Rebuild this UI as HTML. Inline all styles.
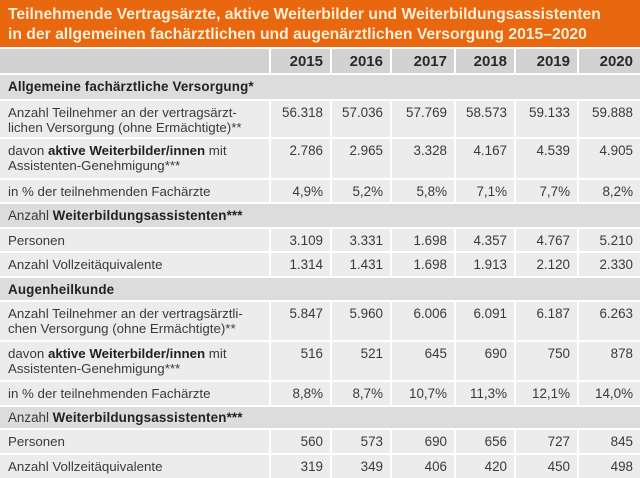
<!DOCTYPE html>
<html><head><meta charset="utf-8">
<style>
*{margin:0;padding:0;box-sizing:border-box}
html,body{width:640px;height:478px;background:#fff;overflow:hidden}
body{position:relative;font-family:"Liberation Sans",Arial,sans-serif;color:#3a3a3a}
.c{position:absolute;background:#ececec;font-size:13px;line-height:15px;padding-top:4px;white-space:nowrap}
.l{padding-left:8px;font-size:13.3px}
.n{text-align:right;padding-right:7px;font-size:13.4px}
.yr{background:#d2d2d2;font-weight:bold;font-size:15px;line-height:17px;color:#2a2a2a}
.sec{background:#dcdcdc;font-size:13.4px;line-height:16px;padding-left:8px}
b{color:#222;font-weight:bold}
.sec b{letter-spacing:0.15px}
#title{position:absolute;left:0;top:0;width:640px;height:47px;background:#e8670f;color:#fdeed6;font-weight:bold;font-size:15.7px;line-height:20px;padding:5px 0 0 8px;white-space:nowrap}
</style></head><body>
<div id="title">Teilnehmende Vertragsärzte, aktive Weiterbilder und Weiterbildungsassistenten<br>in der allgemeinen fachärztlichen und augenärztlichen Versorgung 2015–2020</div>

<!-- year header -->
<div class="c yr" style="left:0;top:49px;width:269px;height:24px"></div>
<div class="c yr n" style="left:271px;top:49px;width:59px;height:24px;padding-top:4px">2015</div>
<div class="c yr n" style="left:332px;top:49px;width:58px;height:24px;padding-top:4px">2016</div>
<div class="c yr n" style="left:392px;top:49px;width:62px;height:24px;padding-top:4px">2017</div>
<div class="c yr n" style="left:456px;top:49px;width:58px;height:24px;padding-top:4px">2018</div>
<div class="c yr n" style="left:516px;top:49px;width:61px;height:24px;padding-top:4px">2019</div>
<div class="c yr n" style="left:579px;top:49px;width:61px;height:24px;padding-top:4px">2020</div>

<div class="c sec" style="left:0;top:75px;width:640px;height:24px"><b>Allgemeine fachärztliche Versorgung*</b></div>

<!-- R1 -->
<div class="c l" style="left:0;top:101px;width:269px;height:36px">Anzahl Teilnehmer an der vertragsärzt-<br>lichen Versorgung (ohne Ermächtigte)**</div>
<div class="c n" style="left:271px;top:101px;width:59px;height:36px">56.318</div>
<div class="c n" style="left:332px;top:101px;width:58px;height:36px">57.036</div>
<div class="c n" style="left:392px;top:101px;width:62px;height:36px">57.769</div>
<div class="c n" style="left:456px;top:101px;width:58px;height:36px">58.573</div>
<div class="c n" style="left:516px;top:101px;width:61px;height:36px">59.133</div>
<div class="c n" style="left:579px;top:101px;width:61px;height:36px">59.888</div>

<!-- R2 -->
<div class="c l" style="left:0;top:139px;width:269px;height:39px">davon <b>aktive Weiterbilder/innen</b> mit<br>Assistenten-Genehmigung***</div>
<div class="c n" style="left:271px;top:139px;width:59px;height:39px">2.786</div>
<div class="c n" style="left:332px;top:139px;width:58px;height:39px">2.965</div>
<div class="c n" style="left:392px;top:139px;width:62px;height:39px">3.328</div>
<div class="c n" style="left:456px;top:139px;width:58px;height:39px">4.167</div>
<div class="c n" style="left:516px;top:139px;width:61px;height:39px">4.539</div>
<div class="c n" style="left:579px;top:139px;width:61px;height:39px">4.905</div>

<!-- R3 -->
<div class="c l" style="left:0;top:180px;width:269px;height:22px">in % der teilnehmenden Fachärzte</div>
<div class="c n" style="left:271px;top:180px;width:59px;height:22px">4,9%</div>
<div class="c n" style="left:332px;top:180px;width:58px;height:22px">5,2%</div>
<div class="c n" style="left:392px;top:180px;width:62px;height:22px">5,8%</div>
<div class="c n" style="left:456px;top:180px;width:58px;height:22px">7,1%</div>
<div class="c n" style="left:516px;top:180px;width:61px;height:22px">7,7%</div>
<div class="c n" style="left:579px;top:180px;width:61px;height:22px">8,2%</div>

<div class="c sec" style="left:0;top:204px;width:640px;height:23px">Anzahl <b>Weiterbildungsassistenten***</b></div>

<div class="c l" style="left:0;top:229px;width:269px;height:22px">Personen</div>
<div class="c n" style="left:271px;top:229px;width:59px;height:22px">3.109</div>
<div class="c n" style="left:332px;top:229px;width:58px;height:22px">3.331</div>
<div class="c n" style="left:392px;top:229px;width:62px;height:22px">1.698</div>
<div class="c n" style="left:456px;top:229px;width:58px;height:22px">4.357</div>
<div class="c n" style="left:516px;top:229px;width:61px;height:22px">4.767</div>
<div class="c n" style="left:579px;top:229px;width:61px;height:22px">5.210</div>

<div class="c l" style="left:0;top:253px;width:269px;height:23px">Anzahl Vollzeitäquivalente</div>
<div class="c n" style="left:271px;top:253px;width:59px;height:23px">1.314</div>
<div class="c n" style="left:332px;top:253px;width:58px;height:23px">1.431</div>
<div class="c n" style="left:392px;top:253px;width:62px;height:23px">1.698</div>
<div class="c n" style="left:456px;top:253px;width:58px;height:23px">1.913</div>
<div class="c n" style="left:516px;top:253px;width:61px;height:23px">2.120</div>
<div class="c n" style="left:579px;top:253px;width:61px;height:23px">2.330</div>

<div class="c sec" style="left:0;top:278px;width:640px;height:22px"><b>Augenheilkunde</b></div>

<div class="c l" style="left:0;top:302px;width:269px;height:38px">Anzahl Teilnehmer an der vertragsärztli-<br>chen Versorgung (ohne Ermächtigte)**</div>
<div class="c n" style="left:271px;top:302px;width:59px;height:38px">5.847</div>
<div class="c n" style="left:332px;top:302px;width:58px;height:38px">5.960</div>
<div class="c n" style="left:392px;top:302px;width:62px;height:38px">6.006</div>
<div class="c n" style="left:456px;top:302px;width:58px;height:38px">6.091</div>
<div class="c n" style="left:516px;top:302px;width:61px;height:38px">6.187</div>
<div class="c n" style="left:579px;top:302px;width:61px;height:38px">6.263</div>

<div class="c l" style="left:0;top:342px;width:269px;height:38px">davon <b>aktive Weiterbilder/innen</b> mit<br>Assistenten-Genehmigung***</div>
<div class="c n" style="left:271px;top:342px;width:59px;height:38px">516</div>
<div class="c n" style="left:332px;top:342px;width:58px;height:38px">521</div>
<div class="c n" style="left:392px;top:342px;width:62px;height:38px">645</div>
<div class="c n" style="left:456px;top:342px;width:58px;height:38px">690</div>
<div class="c n" style="left:516px;top:342px;width:61px;height:38px">750</div>
<div class="c n" style="left:579px;top:342px;width:61px;height:38px">878</div>

<div class="c l" style="left:0;top:382px;width:269px;height:23px">in % der teilnehmenden Fachärzte</div>
<div class="c n" style="left:271px;top:382px;width:59px;height:23px">8,8%</div>
<div class="c n" style="left:332px;top:382px;width:58px;height:23px">8,7%</div>
<div class="c n" style="left:392px;top:382px;width:62px;height:23px">10,7%</div>
<div class="c n" style="left:456px;top:382px;width:58px;height:23px">11,3%</div>
<div class="c n" style="left:516px;top:382px;width:61px;height:23px">12,1%</div>
<div class="c n" style="left:579px;top:382px;width:61px;height:23px">14,0%</div>

<div class="c sec" style="left:0;top:407px;width:640px;height:21px;padding-top:3px">Anzahl <b>Weiterbildungsassistenten***</b></div>

<div class="c l" style="left:0;top:430px;width:269px;height:23px">Personen</div>
<div class="c n" style="left:271px;top:430px;width:59px;height:23px">560</div>
<div class="c n" style="left:332px;top:430px;width:58px;height:23px">573</div>
<div class="c n" style="left:392px;top:430px;width:62px;height:23px">690</div>
<div class="c n" style="left:456px;top:430px;width:58px;height:23px">656</div>
<div class="c n" style="left:516px;top:430px;width:61px;height:23px">727</div>
<div class="c n" style="left:579px;top:430px;width:61px;height:23px">845</div>

<div class="c l" style="left:0;top:455px;width:269px;height:23px">Anzahl Vollzeitäquivalente</div>
<div class="c n" style="left:271px;top:455px;width:59px;height:23px">319</div>
<div class="c n" style="left:332px;top:455px;width:58px;height:23px">349</div>
<div class="c n" style="left:392px;top:455px;width:62px;height:23px">406</div>
<div class="c n" style="left:456px;top:455px;width:58px;height:23px">420</div>
<div class="c n" style="left:516px;top:455px;width:61px;height:23px">450</div>
<div class="c n" style="left:579px;top:455px;width:61px;height:23px">498</div>
</body></html>
